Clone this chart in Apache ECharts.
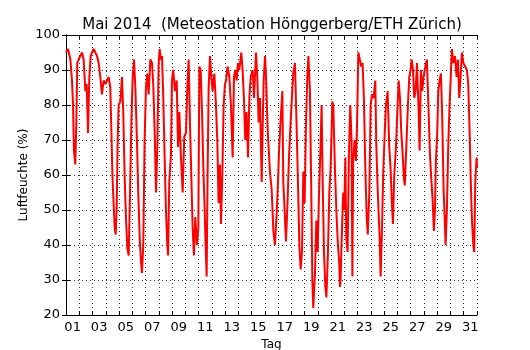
<!DOCTYPE html>
<html>
<head>
<meta charset="utf-8">
<script src="https://cdn.jsdelivr.net/npm/echarts@6/dist/echarts.min.js"></script>
<style>
	html, body { margin: 0; padding: 0; background: #fff; }
	#chart { width: 530px; height: 350px; }
</style>
</head>
<body>
<div id="chart"></div>
<script>
	'use strict'
	/*----data: Mai 2014, time in days since 1 May 00:00----*/
	var dayLabels = ['01', '02', '03', '04', '05', '06', '07', '08', '09', '10', '11', '12', '13', '14', '15', '16',
		'17', '18', '19', '20', '21', '22', '23', '24', '25', '26', '27', '28', '29', '30', '31'];
	var times = [
		0.00, 0.15, 0.33, 0.45, 0.53, 0.60, 0.70, 0.78, 0.85, 0.95,
		1.08, 1.21, 1.33, 1.46, 1.56, 1.66, 1.76, 1.86, 1.96,
		2.09, 2.21, 2.34, 2.46, 2.59, 2.71, 2.84, 2.97,
		3.09, 3.22, 3.34, 3.42, 3.50, 3.59, 3.67, 3.75, 3.82, 3.90, 3.97,
		4.10, 4.22, 4.32, 4.42, 4.52, 4.63, 4.73, 4.83, 4.93,
		5.03, 5.13, 5.23, 5.35, 5.45, 5.56, 5.66, 5.73, 5.83, 5.93,
		6.03, 6.13, 6.23, 6.36, 6.49, 6.59, 6.69, 6.79, 6.89, 6.99,
		7.06, 7.16, 7.24, 7.34, 7.44, 7.54, 7.64, 7.70, 7.79, 7.92,
		7.99, 8.09, 8.22, 8.35, 8.45, 8.55, 8.67, 8.80, 8.92,
		9.05, 9.15, 9.25, 9.35, 9.45, 9.55, 9.65, 9.75, 9.88, 9.98,
		10.06, 10.16, 10.26, 10.36, 10.46, 10.53, 10.61, 10.68, 10.76, 10.86, 10.96,
		11.06, 11.19, 11.31, 11.41, 11.51, 11.61, 11.69, 11.79, 11.89, 11.99,
		12.07, 12.19, 12.32, 12.44, 12.57, 12.67, 12.77, 12.87, 12.97,
		13.07, 13.22, 13.32, 13.42, 13.52, 13.62, 13.73, 13.83, 13.93,
		14.08, 14.18, 14.33, 14.43, 14.53, 14.63, 14.76, 14.83, 14.91, 15.01,
		15.08, 15.21, 15.38, 15.51, 15.64, 15.76, 15.89, 15.99,
		16.06, 16.19, 16.32, 16.39, 16.49, 16.59, 16.69, 16.82, 16.94,
		17.04, 17.14, 17.27, 17.40, 17.52, 17.60, 17.70, 17.80, 17.90, 18.00,
		18.10, 18.20, 18.28, 18.40, 18.50, 18.58, 18.65, 18.78, 18.88, 18.98,
		19.08, 19.18, 19.28, 19.36, 19.46, 19.56, 19.64, 19.76, 19.86, 19.96,
		20.09, 20.16, 20.29, 20.41, 20.51, 20.61, 20.66, 20.71, 20.81, 20.91, 20.99,
		21.07, 21.14, 21.24, 21.34, 21.44, 21.54, 21.60, 21.66, 21.77, 21.87, 21.95,
		22.05, 22.17, 22.27, 22.37, 22.47, 22.57, 22.68, 22.76, 22.88, 22.98,
		23.08, 23.20, 23.33, 23.40, 23.50, 23.58, 23.66, 23.73, 23.83, 23.93,
		24.03, 24.13, 24.26, 24.38, 24.48, 24.58, 24.66, 24.76, 24.89, 24.99,
		25.09, 25.19, 25.29, 25.39, 25.49, 25.55, 25.69, 25.79, 25.89, 25.99,
		26.07, 26.17, 26.27, 26.37, 26.47, 26.60, 26.67, 26.77, 26.87, 26.97,
		27.10, 27.22, 27.35, 27.45, 27.55, 27.65, 27.75, 27.83, 27.90, 28.00,
		28.08, 28.18, 28.28, 28.38, 28.48, 28.56, 28.63, 28.73, 28.83, 28.93,
		29.11, 29.21, 29.34, 29.46, 29.56, 29.66, 29.76, 29.86, 29.97,
		30.12, 30.24, 30.34, 30.44, 30.54, 30.62, 30.72, 30.79, 30.87, 30.97, 31.00
	];
	var humidity = [
		95, 96, 93, 87, 80, 67, 63, 75, 92, 93,
		94, 95, 93, 84, 86, 72, 88, 94, 95,
		96, 95, 94, 92, 88, 83, 87, 86,
		87, 88, 85, 73, 60, 52, 45, 43, 50, 70, 80,
		81, 88, 78, 60, 48, 39, 37, 55, 75,
		88, 93, 85, 70, 55, 42, 35, 32, 40, 70,
		85, 89, 83, 93, 92, 85, 72, 55, 68, 92,
		96, 93, 94, 82, 65, 50, 40, 37, 58, 66,
		87, 90, 84, 87, 68, 78, 65, 55, 71,
		72, 85, 93, 75, 60, 45, 37, 48, 40, 45,
		91, 90, 78, 62, 50, 40, 31, 60, 85, 94, 88,
		84, 89, 80, 70, 52, 63, 46, 60, 80, 86,
		87, 91, 88, 80, 65, 88, 90, 87, 92,
		90, 95, 90, 82, 70, 78, 65, 82, 88,
		90, 82, 95, 88, 75, 82, 58, 73, 87, 94,
		89, 73, 61, 56, 44, 40, 49, 58,
		66, 76, 84, 58, 50, 41, 50, 65, 75,
		82, 89, 92, 73, 54, 40, 33, 38, 61, 52,
		75, 88, 94, 84, 55, 30, 22, 32, 47, 38,
		54, 66, 80, 58, 38, 28, 25, 38, 55, 62,
		81, 80, 61, 48, 40, 35, 28, 30, 44, 55, 50,
		65, 42, 38, 66, 80, 70, 31, 64, 70, 64, 74,
		95, 95, 91, 92, 82, 63, 48, 43, 55, 80,
		83, 82, 87, 69, 57, 49, 42, 31, 44, 61,
		71, 80, 84, 68, 62, 52, 46, 60, 68, 78,
		87, 82, 72, 66, 59, 57, 70, 80, 88, 90,
		93, 90, 82, 84, 92, 78, 67, 90, 84, 88,
		91, 93, 78, 66, 59, 53, 44, 50, 64, 72,
		84, 87, 89, 76, 56, 48, 40, 50, 68, 80,
		96, 92, 94, 88, 93, 82, 88, 95, 92,
		92, 90, 86, 73, 57, 47, 40, 38, 58, 65, 62
	];
	var yMin = 20, yMax = 100, yStep = 10;

	var seriesData = times.map(function(t, i) {
		return [t, humidity[i]];
	});

	var fontFamily = 'DejaVu Sans';
	var frameLine = { show: true, lineStyle: { color: '#000', width: 1 } };
	var innerTick = { show: true, inside: true, length: 4, lineStyle: { color: '#000', width: 1 } };
	var dotted = { show: true, lineStyle: { color: '#000', width: 1, type: [1, 3], opacity: 0.8 } };

	var chart = echarts.init(document.getElementById('chart'), null, { renderer: 'canvas' });
	var option = {
		animation: false,
		backgroundColor: '#fff',
		title: {
			text: 'Mai 2014  (Meteostation Hönggerberg/ETH Zürich)',
			left: 267,
			textAlign: 'center',
			top: 13,
			textStyle: {
				fontFamily: fontFamily,
				fontSize: 15,
				fontWeight: 'normal',
				color: '#000'
			}
		},
		grid: {
			left: 66,
			right: 53,
			top: 35,
			bottom: 35,
			containLabel: false,
			outerBoundsMode: 'none'
		},
		xAxis: [{
			type: 'value',
			min: 0,
			max: 31,
			interval: 1,
			position: 'bottom',
			axisLine: frameLine,
			axisTick: innerTick,
			splitLine: dotted,
			axisLabel: { show: false }
		}, {
			type: 'value',
			min: 0,
			max: 31,
			interval: 1,
			position: 'top',
			axisLine: frameLine,
			axisTick: innerTick,
			splitLine: { show: false },
			axisLabel: { show: false }
		}, {
			type: 'category',
			data: dayLabels,
			boundaryGap: true,
			position: 'bottom',
			name: 'Tag',
			nameLocation: 'middle',
			nameGap: 22,
			nameTextStyle: { fontFamily: fontFamily, fontSize: 12, color: '#000' },
			axisLine: { show: false },
			axisTick: { show: false },
			splitLine: { show: false },
			axisLabel: {
				interval: 1,
				margin: 6,
				fontFamily: fontFamily,
				fontSize: 13,
				color: '#000'
			}
		}],
		yAxis: [{
			type: 'value',
			min: yMin,
			max: yMax,
			interval: yStep,
			position: 'left',
			name: 'Luftfeuchte (%)',
			nameLocation: 'middle',
			nameGap: 36,
			nameRotate: 90,
			nameMoveOverlap: false,
			nameTextStyle: { fontFamily: fontFamily, fontSize: 12, color: '#000' },
			axisLine: frameLine,
			axisTick: innerTick,
			splitLine: dotted,
			axisLabel: {
				margin: 6,
				fontFamily: fontFamily,
				fontSize: 13,
				color: '#000'
			}
		}, {
			type: 'value',
			min: yMin,
			max: yMax,
			interval: yStep,
			position: 'right',
			axisLine: frameLine,
			axisTick: innerTick,
			splitLine: { show: false },
			axisLabel: { show: false }
		}],
		series: [{
			name: 'Luftfeuchte',
			type: 'line',
			xAxisIndex: 0,
			yAxisIndex: 0,
			data: seriesData,
			showSymbol: false,
			lineStyle: { color: '#ff0000', width: 2 },
			itemStyle: { color: '#ff0000' }
		}]
	};
	chart.setOption(option);
</script>
</body>
</html>
